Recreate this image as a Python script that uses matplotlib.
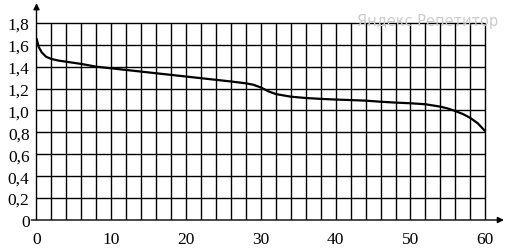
import matplotlib
matplotlib.use("Agg")
import matplotlib.pyplot as plt
import numpy as np

# curve
t = [0, 0.3, 0.7, 1.3, 2, 3, 4, 6, 8, 10, 12, 14, 16, 18, 20, 22, 24, 26, 28, 29,
     30, 31, 32, 34, 36, 38, 40, 42, 44, 46, 48, 50, 52, 54, 55, 56, 57, 58, 59, 60]
v = [1.66, 1.58, 1.53, 1.49, 1.47, 1.455, 1.445, 1.425, 1.40, 1.385, 1.37, 1.355,
     1.34, 1.325, 1.31, 1.295, 1.28, 1.265, 1.248, 1.235, 1.21, 1.175, 1.15, 1.126,
     1.114, 1.106, 1.10, 1.095, 1.09, 1.08, 1.072, 1.066, 1.057, 1.035, 1.018, 0.995,
     0.968, 0.932, 0.883, 0.81]

x_ticks = [0, 10, 20, 30, 40, 50, 60]
y_ticks = [0, 0.2, 0.4, 0.6, 0.8, 1.0, 1.2, 1.4, 1.6, 1.8]
y_labels = ["0", "0,2", "0,4", "0,6", "0,8", "1,0", "1,2", "1,4", "1,6", "1,8"]

fig = plt.figure(figsize=(5.07, 2.53), dpi=100)
ax = fig.add_axes([0.072, 0.1265, 0.922, 0.857])
ax.set_xlim(0, 62.5)
ax.set_ylim(0, 1.98)
for s in ax.spines.values():
    s.set_visible(False)

# grid
ax.vlines(np.arange(2, 61, 2), 0, 1.8, color="black", lw=1.0)
ax.hlines(y_ticks[1:], -0.7, 60, color="black", lw=1.0)

# axes with arrows
ax.annotate("", xy=(62.5, 0), xytext=(-0.7, 0),
            arrowprops=dict(arrowstyle="-|>", color="black", lw=1.0,
                            mutation_scale=9, shrinkA=0, shrinkB=0))
ax.annotate("", xy=(0, 1.98), xytext=(0, 0),
            arrowprops=dict(arrowstyle="-|>", color="black", lw=1.0,
                            mutation_scale=9, shrinkA=0, shrinkB=0))

ax.plot(t, v, color="black", lw=1.6, solid_capstyle="butt")

ax.set_xticks(x_ticks)
ax.set_xticklabels([str(x) for x in x_ticks])
ax.set_yticks(y_ticks)
ax.set_yticklabels(y_labels)
ax.tick_params(length=0, labelsize=12.5, pad=5)
ax.tick_params(axis="x", pad=8)
for lab in ax.get_xticklabels() + ax.get_yticklabels():
    lab.set_family("Liberation Serif")

fig.text(0.982, 0.915, "Яндекс Репетитор", ha="right", va="center",
         fontsize=10.5, color="#cccccc", family="DejaVu Sans Condensed")

fig.savefig("out.png", dpi=100)
